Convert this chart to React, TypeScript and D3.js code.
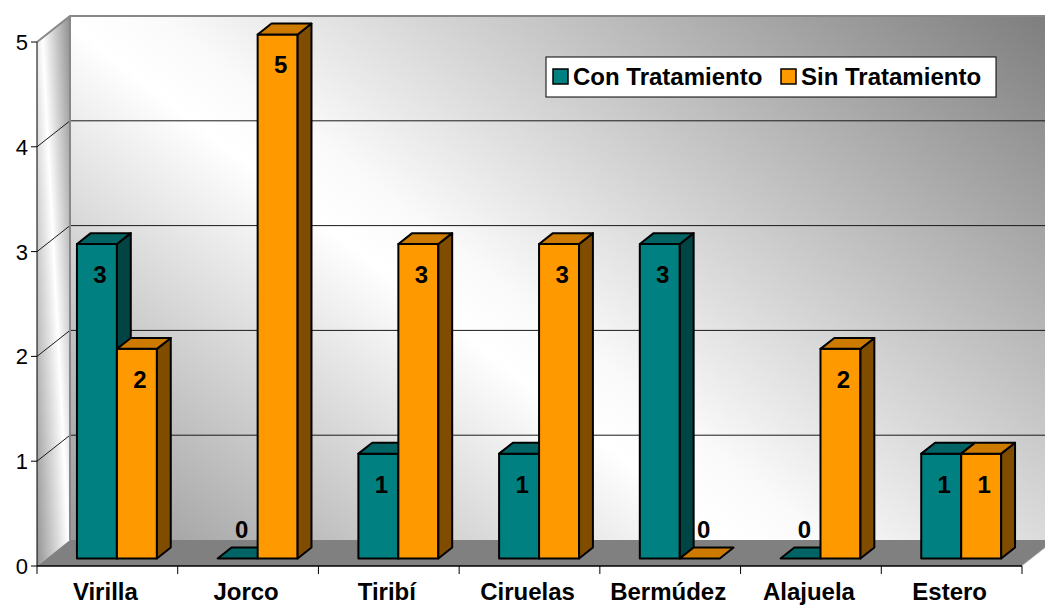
import React, { useEffect, useRef } from "react";
import * as d3 from "d3";

const categories = ["Virilla", "Jorco", "Tiribí", "Ciruelas", "Bermúdez", "Alajuela", "Estero"];
const seriesNames = ["Con Tratamiento", "Sin Tratamiento"];
const conTratamiento = [3, 0, 1, 1, 3, 0, 1];
const sinTratamiento = [2, 5, 3, 3, 0, 2, 1];
const yTicks = [0, 1, 2, 3, 4, 5];

const seriesValues = [conTratamiento, sinTratamiento];
const colors = [
  { front: "#008080", side: "#004444", top: "#006464" },
  { front: "#ff9900", side: "#7f4c00", top: "#cc7a00" },
];

const App = () => {
  const ref = useRef<SVGSVGElement>(null);

  useEffect(() => {
    const width = 1045;
    const height = 606;
    const left = 37;
    const right = 1022;
    const bottom = 566;
    const top = 42;
    const dX = 33;
    const dY = -26;
    const z0 = 0.29;
    const z1 = 0.71;

    const svg = d3.select(ref.current);
    svg.selectAll("*").remove();
    svg.attr("width", width).attr("height", height);

    const x = d3.scaleBand().domain(categories).range([left, right]);
    const xs = d3
      .scaleBand()
      .domain(seriesNames)
      .range([0, x.bandwidth()])
      .paddingInner(0)
      .paddingOuter(0.76);
    const y = d3.scaleLinear().domain([0, 5]).range([bottom, top]);

    const proj = (px: number, py: number, z: number) => [px + z * dX, py + z * dY];
    const poly = (pts: number[][]) => "M" + pts.map((p) => p.join(",")).join("L") + "Z";

    const defs = svg.append("defs");
    const backGrad = defs
      .append("linearGradient")
      .attr("id", "backGrad")
      .attr("gradientUnits", "userSpaceOnUse")
      .attr("x1", 70)
      .attr("y1", 540)
      .attr("x2", 696)
      .attr("y2", -258);
    backGrad.append("stop").attr("offset", 0).attr("stop-color", "#979797");
    backGrad.append("stop").attr("offset", 0.4).attr("stop-color", "#ffffff");
    backGrad.append("stop").attr("offset", 0.46).attr("stop-color", "#fafafa");
    backGrad.append("stop").attr("offset", 1).attr("stop-color", "#7e7e7e");

    const sideGrad = defs
      .append("linearGradient")
      .attr("id", "sideGrad")
      .attr("gradientUnits", "userSpaceOnUse")
      .attr("x1", 0)
      .attr("y1", 0)
      .attr("x2", 70)
      .attr("y2", -3.6);
    sideGrad.append("stop").attr("offset", 0).attr("stop-color", "#7a7a7a");
    sideGrad.append("stop").attr("offset", 0.58).attr("stop-color", "#ffffff");
    sideGrad.append("stop").attr("offset", 1).attr("stop-color", "#8a8a8a");

    // walls
    const [bx0, by0] = proj(left, top, 1);
    const [bx1, by1] = proj(right, bottom, 1);
    svg
      .append("rect")
      .attr("x", bx0)
      .attr("y", by0)
      .attr("width", bx1 - bx0)
      .attr("height", by1 - by0)
      .attr("fill", "url(#backGrad)");

    svg
      .append("path")
      .attr("d", poly([[left, top], proj(left, top, 1), proj(left, bottom, 1), [left, bottom]]))
      .attr("fill", "url(#sideGrad)");

    svg
      .append("path")
      .attr("d", poly([[left, bottom], proj(left, bottom, 1), proj(right, bottom, 1), [right, bottom]]))
      .attr("fill", "#808080");

    svg
      .append("line")
      .attr("x1", right)
      .attr("y1", bottom)
      .attr("x2", proj(right, bottom, 1)[0])
      .attr("y2", proj(right, bottom, 1)[1])
      .attr("stroke", "#d8d8d8")
      .attr("stroke-width", 1);

    // gridlines
    yTicks
      .filter((t) => t > 0 && t < 5)
      .forEach((t) => {
        const [gx, gy] = proj(left, y(t), 1);
        svg
          .append("path")
          .attr("d", `M${left},${y(t)}L${gx},${gy}L${width},${gy}`)
          .attr("fill", "none")
          .attr("stroke", "#1a1a1a")
          .attr("stroke-width", 1);
      });

    // wall borders
    svg
      .append("path")
      .attr("d", `M${left},${top}L${bx0},${by0}L${width},${by0}M${bx0},${by0}L${bx0},${by1}`)
      .attr("fill", "none")
      .attr("stroke", "#888888")
      .attr("stroke-width", 2);

    // axes
    svg
      .append("line")
      .attr("x1", left)
      .attr("x2", left)
      .attr("y1", top)
      .attr("y2", bottom)
      .attr("stroke", "#000")
      .attr("stroke-width", 1);
    svg
      .append("line")
      .attr("x1", left)
      .attr("x2", right)
      .attr("y1", bottom)
      .attr("y2", bottom)
      .attr("stroke", "#000")
      .attr("stroke-width", 1.5);

    yTicks.forEach((t) => {
      svg
        .append("line")
        .attr("x1", left - 6)
        .attr("x2", left)
        .attr("y1", y(t))
        .attr("y2", y(t))
        .attr("stroke", "#000");
      svg
        .append("text")
        .attr("x", left - 9)
        .attr("y", y(t))
        .attr("dy", "0.36em")
        .attr("text-anchor", "end")
        .attr("font-family", "Liberation Sans, Arial, sans-serif")
        .attr("font-size", 22)
        .text(t);
    });

    const boundaries = categories.map((c) => x(c) as number).concat([right]);
    boundaries.forEach((b) => {
      svg
        .append("line")
        .attr("x1", b)
        .attr("x2", b)
        .attr("y1", bottom)
        .attr("y2", bottom + 8)
        .attr("stroke", "#000");
    });

    categories.forEach((c) => {
      svg
        .append("text")
        .attr("x", (x(c) as number) + x.bandwidth() / 2 - 2)
        .attr("y", 600)
        .attr("text-anchor", "middle")
        .attr("font-family", "Liberation Sans, Arial, sans-serif")
        .attr("font-weight", "bold")
        .attr("font-size", 24)
        .text(c);
    });

    // bars
    const bars = svg.append("g").attr("stroke", "#000").attr("stroke-width", 2).attr("stroke-linejoin", "round");
    const labels: { lx: number; ly: number; v: number }[] = [];
    categories.forEach((c, i) => {
      seriesNames.forEach((s, j) => {
        const v = seriesValues[j][i];
        const xa = (x(c) as number) + (xs(s) as number);
        const xb = xa + xs.bandwidth();
        const yt = y(v);
        const yb = y(0);
        const col = colors[j];
        if (v > 0) {
          bars
            .append("path")
            .attr("d", poly([proj(xa, yt, z0), proj(xb, yt, z0), proj(xb, yb, z0), proj(xa, yb, z0)]))
            .attr("fill", col.front);
          bars
            .append("path")
            .attr("d", poly([proj(xb, yt, z0), proj(xb, yt, z1), proj(xb, yb, z1), proj(xb, yb, z0)]))
            .attr("fill", col.side);
        }
        bars
          .append("path")
          .attr("d", poly([proj(xa, yt, z0), proj(xb, yt, z0), proj(xb, yt, z1), proj(xa, yt, z1)]))
          .attr("fill", col.top);
        const [fx, fy] = proj((xa + xb) / 2, yt, z0);
        labels.push(v > 0 ? { lx: fx + 3, ly: fy + 39, v } : { lx: fx + 4, ly: fy - 20, v });
      });
    });

    labels.forEach((l) => {
      svg
        .append("text")
        .attr("x", l.lx)
        .attr("y", l.ly)
        .attr("text-anchor", "middle")
        .attr("font-family", "Liberation Sans, Arial, sans-serif")
        .attr("font-weight", "bold")
        .attr("font-size", 24)
        .text(l.v);
    });

    // legend
    const legend = svg.append("g").attr("transform", "translate(546,57)");
    legend
      .append("rect")
      .attr("width", 450)
      .attr("height", 40)
      .attr("fill", "#fff")
      .attr("stroke", "#000")
      .attr("stroke-width", 1);
    const legendX = [7, 235];
    seriesNames.forEach((s, j) => {
      legend
        .append("rect")
        .attr("x", legendX[j])
        .attr("y", 12)
        .attr("width", 15)
        .attr("height", 15)
        .attr("fill", colors[j].front)
        .attr("stroke", "#000")
        .attr("stroke-width", 1.5);
      legend
        .append("text")
        .attr("x", legendX[j] + 20)
        .attr("y", 28)
        .attr("font-family", "Liberation Sans, Arial, sans-serif")
        .attr("font-weight", "bold")
        .attr("font-size", 24)
        .text(s);
    });
  }, []);

  return <svg ref={ref} style={{ position: "absolute", left: 0, top: 0 }}></svg>;
};

export default App;
